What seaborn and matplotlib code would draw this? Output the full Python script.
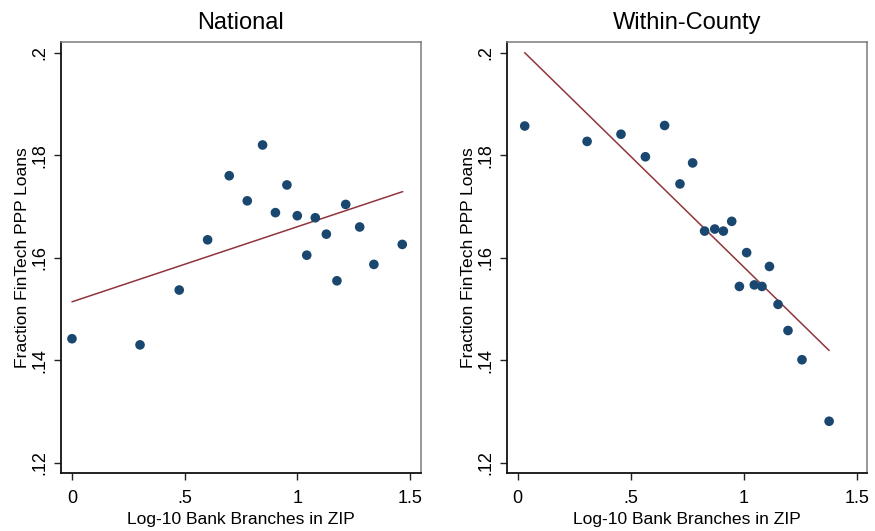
import seaborn as sns
import matplotlib.pyplot as plt

# National panel
nat_x = [0.0, 0.302, 0.476, 0.602, 0.698, 0.778, 0.846, 0.903, 0.954, 1.0,
         1.042, 1.080, 1.129, 1.176, 1.215, 1.277, 1.340, 1.466]
nat_y = [0.1442, 0.1430, 0.1537, 0.1635, 0.1760, 0.1711, 0.1820, 0.1688, 0.1742, 0.1682,
         0.1605, 0.1678, 0.1646, 0.1555, 0.1704, 0.1660, 0.1587, 0.1626]
nat_fit_x = [0.0, 1.468]
nat_fit_y = [0.1514, 0.1729]

# Within-County panel
cty_x = [0.031, 0.307, 0.457, 0.565, 0.650, 0.774, 0.718, 0.827, 0.872, 0.910,
         0.947, 1.013, 1.114, 0.981, 1.047, 1.081, 1.152, 1.196, 1.258, 1.378]
cty_y = [0.1857, 0.1827, 0.1841, 0.1797, 0.1858, 0.1785, 0.1744, 0.1652, 0.1656, 0.1652,
         0.1671, 0.1610, 0.1583, 0.1544, 0.1547, 0.1544, 0.1509, 0.1458, 0.1401, 0.1281]
cty_fit_x = [0.031, 1.378]
cty_fit_y = [0.2000, 0.1419]

xticks = [0, 0.5, 1, 1.5]
xtick_labels = ['0', '.5', '1', '1.5']
yticks = [0.12, 0.14, 0.16, 0.18, 0.2]
ytick_labels = ['.12', '.14', '.16', '.18', '.2']

sns.set_style('ticks')
plt.rcParams['font.family'] = ['Liberation Sans', 'DejaVu Sans']
plt.rcParams['text.color'] = 'black'
plt.rcParams['axes.labelcolor'] = 'black'
plt.rcParams['xtick.color'] = 'black'
plt.rcParams['ytick.color'] = 'black'

dot_color = '#1a476f'
line_color = '#90353b'

fig = plt.figure(figsize=(8.75, 5.31), dpi=100)
ax1 = fig.add_axes([0.0697, 0.1092, 0.4114, 0.8118])
ax2 = fig.add_axes([0.5798, 0.1092, 0.4114, 0.8118])

panels = [
    (ax1, 'National', nat_x, nat_y, nat_fit_x, nat_fit_y, (-0.0488, 1.549)),
    (ax2, 'Within-County', cty_x, cty_y, cty_fit_x, cty_fit_y, (-0.046, 1.547)),
]
for ax, title, x, y, fx, fy, xlim in panels:
    sns.lineplot(x=fx, y=fy, ax=ax, color=line_color, linewidth=1.1)
    sns.scatterplot(x=x, y=y, ax=ax, color=dot_color, s=48, edgecolor='none', zorder=3)
    ax.set_xlim(*xlim)
    ax.set_ylim(0.118, 0.2021)
    ax.set_xticks(xticks)
    ax.set_xticklabels(xtick_labels)
    ax.set_yticks(yticks)
    ax.set_yticklabels(ytick_labels, rotation=90, va='center')
    ax.tick_params(labelsize=13, length=5, width=1, color='#222222')
    ax.tick_params(axis='x', pad=7)
    ax.tick_params(axis='y', pad=4)
    for name, sp in ax.spines.items():
        sp.set_visible(True)
        if name in ('left', 'bottom'):
            sp.set_color('#111111')
            sp.set_linewidth(1.3)
        else:
            sp.set_color('#7a7a7a')
            sp.set_linewidth(1.1)
    ax.set_title(title, fontsize=17, pad=9)
    ax.set_xlabel('Log-10 Bank Branches in ZIP', fontsize=12.6, labelpad=4)
    ax.set_ylabel('Fraction FinTech PPP Loans', fontsize=12.6, labelpad=1)

fig.savefig('out.png', dpi=100)
